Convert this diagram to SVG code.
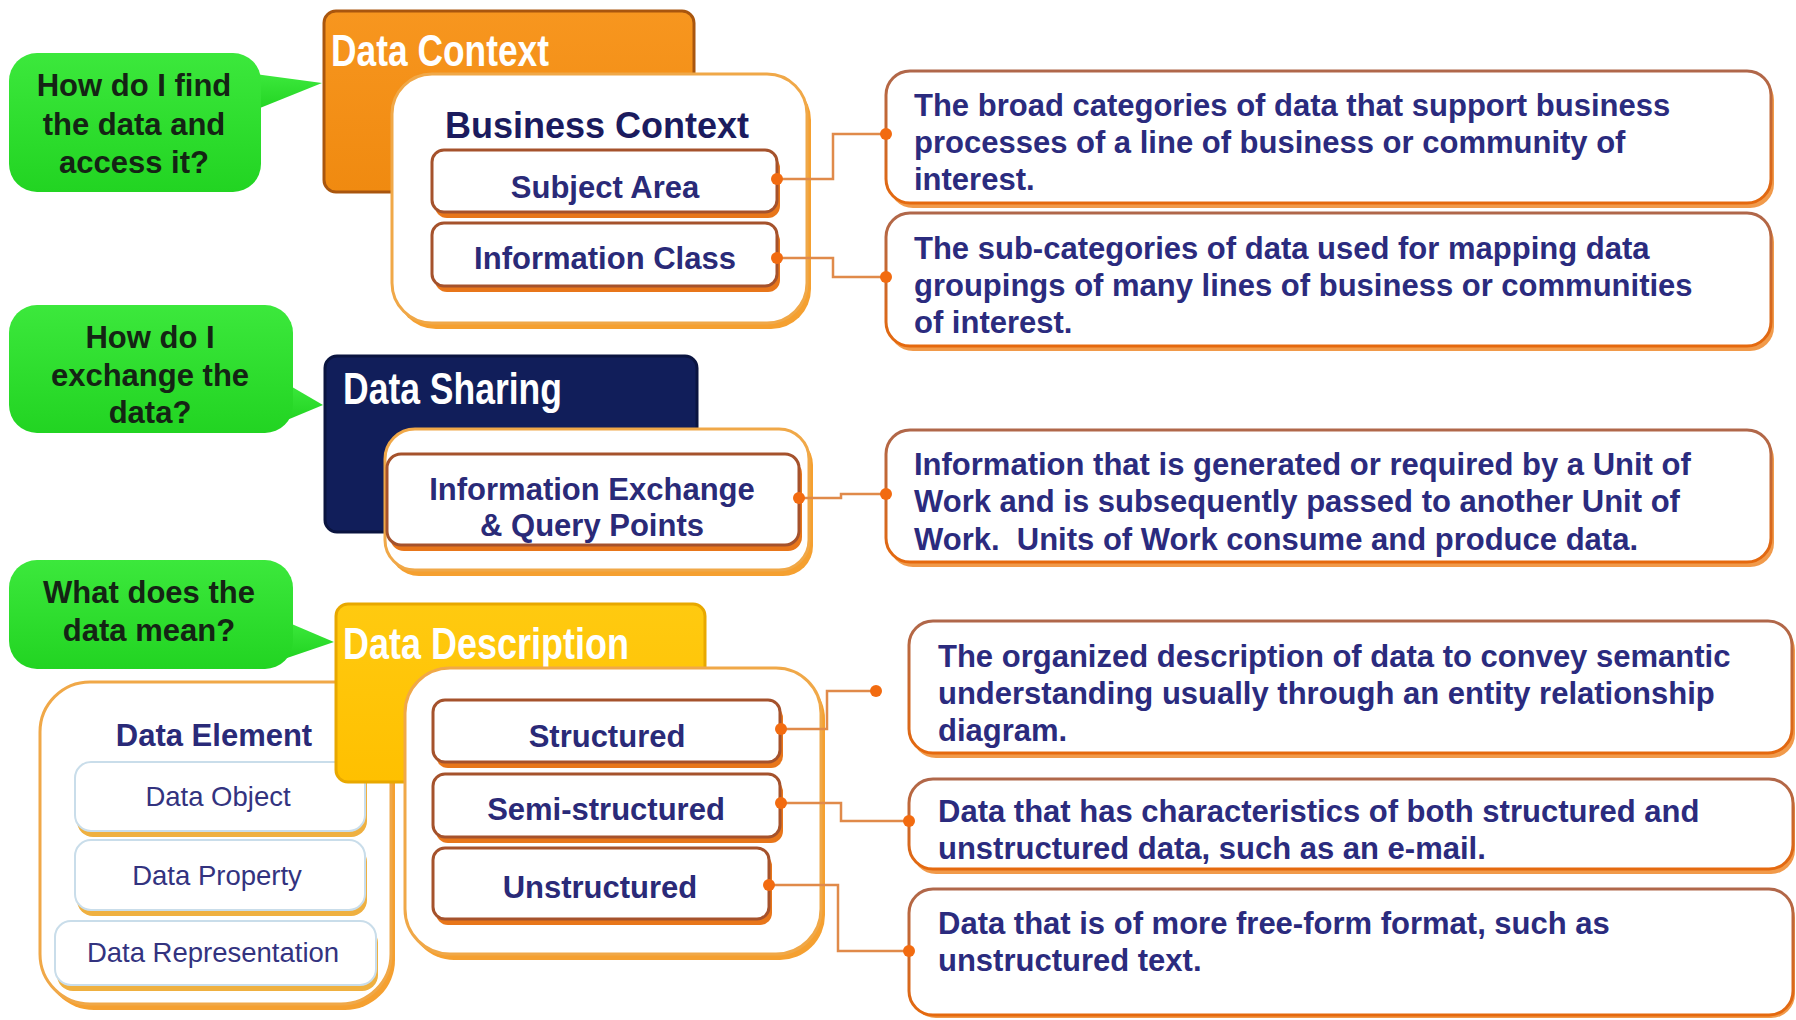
<svg xmlns="http://www.w3.org/2000/svg" width="1796" height="1020" viewBox="0 0 1796 1020">
<defs>
<linearGradient id="gDesc" x1="0" y1="0" x2="0" y2="1"><stop offset="0" stop-color="#B0674A"/><stop offset="1" stop-color="#E5690E"/></linearGradient>
<linearGradient id="gGreen" x1="0" y1="0" x2="0" y2="1"><stop offset="0" stop-color="#3CE83C"/><stop offset="1" stop-color="#22D422"/></linearGradient>
<linearGradient id="gOrange" x1="0" y1="0" x2="0" y2="1"><stop offset="0" stop-color="#F7961F"/><stop offset="1" stop-color="#F08A10"/></linearGradient>
<linearGradient id="gYellow" x1="0" y1="0" x2="0" y2="1"><stop offset="0" stop-color="#FFCA10"/><stop offset="1" stop-color="#FFC000"/></linearGradient>
<style>
.bub{fill:url(#gGreen)}
.q{font-family:"Liberation Sans",Arial,sans-serif;font-weight:bold;font-size:31px;fill:#142414;text-anchor:middle}
.hd{font-family:"Liberation Sans",Arial,sans-serif;font-weight:bold;font-size:45px;fill:#fff}
.sho{fill:#F5A030}
.outer{fill:#fff;stroke:#F0A848;stroke-width:3}
.shl{fill:#E8761A}
.lab{fill:#fff;stroke:#A5522C;stroke-width:3}
.shd{fill:#F19A4A}
.desc{fill:#fff;stroke:url(#gDesc);stroke-width:3}
.shde{fill:#EFB040}
.dein{fill:#fff;stroke:#C9DDEA;stroke-width:2}
.bc{font-family:"Liberation Sans",Arial,sans-serif;font-weight:bold;font-size:36px;fill:#1B1B5E;text-anchor:middle}
.lb{font-family:"Liberation Sans",Arial,sans-serif;font-weight:bold;font-size:31px;fill:#2A2A78;text-anchor:middle}
.ds{font-family:"Liberation Sans",Arial,sans-serif;font-weight:bold;font-size:31px;fill:#2B2B7E}
.sm{font-family:"Liberation Sans",Arial,sans-serif;font-size:27.5px;fill:#33337F;text-anchor:middle}
.con{fill:none;stroke:#E08A4A;stroke-width:2.5}
.dot{fill:#F26B10}
</style>
</defs>
<rect width="1796" height="1020" fill="#fff"/>

<g id="q1">
<polygon class="bub" points="255,74 322,83 255,110"/>
<rect class="bub" x="9" y="53" width="252" height="139" rx="28"/>
<text class="q" x="134" y="96">How do I find</text>
<text class="q" x="134" y="135">the data and</text>
<text class="q" x="134" y="173">access it?</text>
</g>
<g id="q2">
<polygon class="bub" points="287,384 323,405 287,420"/>
<rect class="bub" x="9" y="305" width="284" height="128" rx="28"/>
<text class="q" x="150" y="348">How do I</text>
<text class="q" x="150" y="386">exchange the</text>
<text class="q" x="150" y="423">data?</text>
</g>
<g id="q3">
<polygon class="bub" points="287,622 334,642 287,658"/>
<rect class="bub" x="9" y="560" width="284" height="109" rx="28"/>
<text class="q" x="149" y="603">What does the</text>
<text class="q" x="149" y="641">data mean?</text>
</g>

<g id="dataContext">
<rect x="324" y="11" width="370" height="181" rx="12" fill="url(#gOrange)" stroke="#A9560E" stroke-width="3"/>
<text class="hd" x="331" y="66" textLength="218" lengthAdjust="spacingAndGlyphs">Data Context</text>
</g>
<g id="businessContext">
<rect class="sho" x="396" y="80" width="415" height="249" rx="40"/>
<rect class="outer" x="392" y="74" width="415" height="249" rx="40"/>
<text class="bc" x="597" y="138">Business Context</text>
</g>
<g id="subjectArea">
<rect class="shl" x="435" y="156" width="345" height="62" rx="12"/>
<rect class="lab" x="432" y="150" width="345" height="62" rx="12"/>
<text class="lb" x="605" y="198">Subject Area</text>
</g>
<g id="informationClass">
<rect class="shl" x="435" y="229" width="345" height="63" rx="12"/>
<rect class="lab" x="432" y="223" width="345" height="63" rx="12"/>
<text class="lb" x="605" y="269">Information Class</text>
</g>

<g id="dataSharing">
<rect x="325" y="356" width="372" height="176" rx="12" fill="#111E5A" stroke="#0A1440" stroke-width="3"/>
<text class="hd" x="343" y="404" textLength="219" lengthAdjust="spacingAndGlyphs">Data Sharing</text>
</g>
<g id="exchangeOuter">
<rect class="sho" x="389" y="435" width="424" height="141" rx="30"/>
<rect class="outer" x="385" y="429" width="424" height="141" rx="30"/>
</g>
<g id="infoExchange">
<rect class="shl" x="390" y="460" width="412" height="91" rx="14"/>
<rect class="lab" x="387" y="454" width="412" height="91" rx="14"/>
<text class="lb" x="592" y="500">Information Exchange</text>
<text class="lb" x="592" y="536">&amp; Query Points</text>
</g>

<g id="dataElement">
<rect class="sho" x="44" y="688" width="351" height="322" rx="50"/>
<rect class="outer" x="40" y="682" width="351" height="322" rx="50"/>
<text class="lb" x="214" y="746" style="fill:#2A2A78">Data Element</text>
</g>
<g id="dataObject">
<rect class="shde" x="77" y="768" width="290" height="69" rx="16"/>
<rect class="dein" x="75" y="762" width="290" height="69" rx="16"/>
<text class="sm" x="218" y="806">Data Object</text>
</g>
<g id="dataProperty">
<rect class="shde" x="77" y="846" width="290" height="70" rx="16"/>
<rect class="dein" x="75" y="840" width="290" height="70" rx="16"/>
<text class="sm" x="217" y="885">Data Property</text>
</g>
<g id="dataRepresentation">
<rect class="shde" x="57" y="927" width="321" height="64" rx="16"/>
<rect class="dein" x="55" y="921" width="321" height="64" rx="16"/>
<text class="sm" x="213" y="962">Data Representation</text>
</g>

<g id="dataDescription">
<rect x="336" y="604" width="369" height="178" rx="12" fill="url(#gYellow)" stroke="#E8A800" stroke-width="3"/>
<text class="hd" x="343" y="659" textLength="286" lengthAdjust="spacingAndGlyphs">Data Description</text>
</g>
<g id="structureOuter">
<rect class="sho" x="409" y="674" width="416" height="286" rx="45"/>
<rect class="outer" x="405" y="668" width="416" height="286" rx="45"/>
</g>
<g id="structured">
<rect class="shl" x="436" y="706" width="347" height="62" rx="12"/>
<rect class="lab" x="433" y="700" width="347" height="62" rx="12"/>
<text class="lb" x="607" y="747">Structured</text>
</g>
<g id="semiStructured">
<rect class="shl" x="436" y="780" width="347" height="63" rx="12"/>
<rect class="lab" x="433" y="774" width="347" height="63" rx="12"/>
<text class="lb" x="606" y="820">Semi-structured</text>
</g>
<g id="unstructured">
<rect class="shl" x="436" y="854" width="336" height="71" rx="12"/>
<rect class="lab" x="433" y="848" width="336" height="71" rx="12"/>
<text class="lb" x="600" y="898">Unstructured</text>
</g>

<g id="desc1">
<rect class="shd" x="889" y="76" width="885" height="132" rx="24"/>
<rect class="desc" x="886" y="71" width="885" height="132" rx="24"/>
<text class="ds" x="914" y="116">The broad categories of data that support business</text>
<text class="ds" x="914" y="153">processes of a line of business or community of</text>
<text class="ds" x="914" y="190">interest.</text>
</g>
<g id="desc2">
<rect class="shd" x="889" y="218" width="885" height="133" rx="24"/>
<rect class="desc" x="886" y="213" width="885" height="133" rx="24"/>
<text class="ds" x="914" y="259">The sub-categories of data used for mapping data</text>
<text class="ds" x="914" y="296">groupings of many lines of business or communities</text>
<text class="ds" x="914" y="333">of interest.</text>
</g>
<g id="desc3">
<rect class="shd" x="889" y="435" width="885" height="132" rx="24"/>
<rect class="desc" x="886" y="430" width="885" height="132" rx="24"/>
<text class="ds" x="914" y="475">Information that is generated or required by a Unit of</text>
<text class="ds" x="914" y="512">Work and is subsequently passed to another Unit of</text>
<text class="ds" x="914" y="550" xml:space="preserve">Work.  Units of Work consume and produce data.</text>
</g>
<g id="desc4">
<rect class="shd" x="912" y="626" width="883" height="132" rx="24"/>
<rect class="desc" x="909" y="621" width="883" height="132" rx="24"/>
<text class="ds" x="938" y="667">The organized description of data to convey semantic</text>
<text class="ds" x="938" y="704">understanding usually through an entity relationship</text>
<text class="ds" x="938" y="741">diagram.</text>
</g>
<g id="desc5">
<rect class="shd" x="912" y="784" width="883" height="90" rx="24"/>
<rect class="desc" x="909" y="779" width="884" height="90" rx="24"/>
<text class="ds" x="938" y="822">Data that has characteristics of both structured and</text>
<text class="ds" x="938" y="859">unstructured data, such as an e-mail.</text>
</g>
<g id="desc6">
<rect class="shd" x="912" y="894" width="883" height="124" rx="24"/>
<rect class="desc" x="909" y="889" width="884" height="126" rx="24"/>
<text class="ds" x="938" y="934">Data that is of more free-form format, such as</text>
<text class="ds" x="938" y="971">unstructured text.</text>
</g>

<g id="connectors">
<polyline class="con" points="777,179 833,179 833,134 886,134"/>
<polyline class="con" points="777,258 833,258 833,277 886,277"/>
<polyline class="con" points="799,498 841,498 841,494 886,494"/>
<polyline class="con" points="781,729 827,729 827,691 876,691"/>
<polyline class="con" points="781,803 841,803 841,821 909,821"/>
<polyline class="con" points="769,885 838,885 838,951 909,951"/>
<circle class="dot" cx="777" cy="179" r="6"/>
<circle class="dot" cx="886" cy="134" r="6"/>
<circle class="dot" cx="777" cy="258" r="6"/>
<circle class="dot" cx="886" cy="277" r="6"/>
<circle class="dot" cx="799" cy="498" r="6"/>
<circle class="dot" cx="886" cy="494" r="6"/>
<circle class="dot" cx="781" cy="729" r="6"/>
<circle class="dot" cx="876" cy="691" r="6"/>
<circle class="dot" cx="781" cy="803" r="6"/>
<circle class="dot" cx="909" cy="821" r="6"/>
<circle class="dot" cx="769" cy="885" r="6"/>
<circle class="dot" cx="909" cy="951" r="6"/>
</g>
</svg>
